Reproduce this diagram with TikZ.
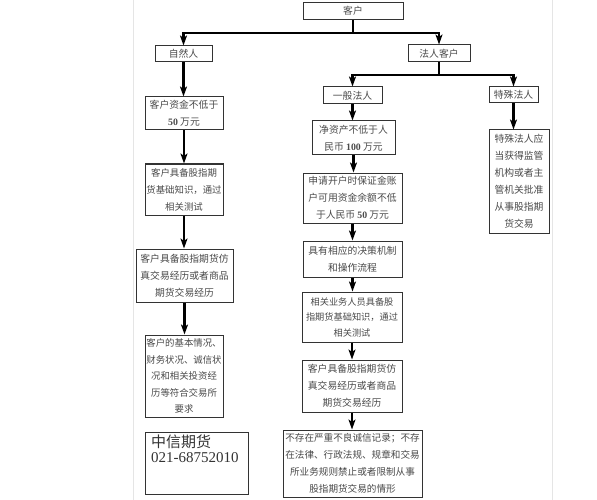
\documentclass[tikz,border=0pt]{standalone}
\usepackage{fontspec}
\setmainfont{Liberation Serif}
\newfontfamily\cjk{Noto Sans CJK SC}
\usetikzlibrary{arrows.meta}
\definecolor{txt}{HTML}{4A4A4A}
\definecolor{edge}{HTML}{333333}
\newcommand\dg[1]{{\rmfamily\bfseries #1}}
\begin{document}
\begin{tikzpicture}[x=1pt,y=-1pt,
  box/.style={draw=edge,line width=1pt,inner sep=0pt,align=center,text=txt,
    font=\cjk\fontsize{9.8}{17}\selectfont},
  link/.style={line width=2.4pt,black},
  arr/.style={link,-{Stealth[length=10pt,width=7pt,inset=2.5pt]}},
  pageline/.style={gray!20,line width=0.8pt}]
\fill[white] (0,0) rectangle (597,500);
\useasboundingbox (0,0) rectangle (597,500);
\draw[pageline] (133,0) -- (133,500);
\draw[pageline] (552,0) -- (552,500);

% top level
\node[box,minimum width=100,minimum height=17] (khu) at (353,11) {客户};
\node[box,minimum width=57,minimum height=16] (zrr) at (183.5,54) {自然人};
\node[box,minimum width=62,minimum height=17] (frkh) at (439,53.5) {法人客户};
\node[box,minimum width=59,minimum height=17] (ybfr) at (352.5,95.5) {一般法人};
\node[box,minimum width=49,minimum height=16] (tsfr) at (513.5,95) {特殊法人};

% left column
\node[box,minimum width=78,minimum height=33] (L1) at (184,113.5) {客户资金不低于\\\dg{50} 万元};
\node[box,minimum width=78,minimum height=51,font=\cjk\fontsize{9.4}{17}\selectfont] (L2) at (184,189.5) {客户具备股指期\\货基础知识，通过\\相关测试};
\node[box,minimum width=97,minimum height=53] (L3) at (184.5,275.5) {客户具备股指期货仿\\真交易经历或者商品\\期货交易经历};
\node[box,minimum width=78,minimum height=82,font=\cjk\fontsize{9.4}{16.4}\selectfont] (L4) at (184,376) {客户的基本情况、\\财务状况、诚信状\\况和相关投资经\\历等符合交易所\\要求};

% logo
\node[draw=edge,line width=1pt,minimum width=103,minimum height=62,inner sep=0pt] (logo) at (196.5,463) {};
\node[anchor=north west,inner sep=0pt,text=black!80,font=\cjk\fontsize{15}{16}\selectfont] (logo1) at (151,435) {中信期货};
\node[anchor=north west,inner sep=0pt,text=black!80,font=\fontsize{15}{15}\selectfont] (logo2) at (151,452) {021-68752010};

% middle column
\node[box,minimum width=83,minimum height=34] (R1) at (353.5,138) {净资产不低于人\\民币 \dg{100} 万元};
\node[box,minimum width=99,minimum height=50] (R2) at (352.5,198) {申请开户时保证金账\\户可用资金余额不低\\于人民币 \dg{50} 万元};
\node[box,minimum width=99,minimum height=36] (R3) at (352.5,259) {具有相应的决策机制\\和操作流程};
\node[box,minimum width=100,minimum height=50,font=\cjk\fontsize{9.2}{15.5}\selectfont] (R4) at (352,317) {相关业务人员具备股\\指期货基础知识，通过\\相关测试};
\node[box,minimum width=100,minimum height=52] (R5) at (352,386) {客户具备股指期货仿\\真交易经历或者商品\\期货交易经历};
\node[box,minimum width=139,minimum height=67,font=\cjk\fontsize{9.6}{17}\selectfont] (R6) at (352.5,463.5) {不存在严重不良诚信记录；不存\\在法律、行政法规、规章和交易\\所业务规则禁止或者限制从事\\股指期货交易的情形};

% right column
\node[box,minimum width=60,minimum height=103] (T1) at (519,181.5) {特殊法人应\\当获得监管\\机构或者主\\管机关批准\\从事股指期\\货交易};

% connectors
\coordinate (j1) at (353,33);
\coordinate (j2) at (439,75);
\draw[link] (khu.south) -- (j1);
\draw[arr] (j1) -| (zrr.north);
\draw[arr] (j1) -| (frkh.north);
\draw[link] (frkh.south) -- (j2);
\draw[arr] (j2) -| (ybfr.north);
\draw[arr] (j2) -| (tsfr.north);

\draw[arr] (zrr.south) -- (zrr.south |- L1.north);
\draw[arr] (L1.south) -- (L1.south |- L2.north);
\draw[arr] (L2.south) -- (L2.south |- L3.north);
\draw[arr] (L3.south) -- (L3.south |- L4.north);

\draw[arr] (ybfr.south) -- (ybfr.south |- R1.north);
\draw[arr] (R1.south) -- (R1.south |- R2.north);
\draw[arr] (R2.south) -- (R2.south |- R3.north);
\draw[arr] (R3.south) -- (R3.south |- R4.north);
\draw[arr] (R4.south) -- (R4.south |- R5.north);
\draw[arr] (R5.south) -- (R5.south |- R6.north);

\draw[arr] (tsfr.south) -- (tsfr.south |- T1.north);
\end{tikzpicture}
\end{document}
